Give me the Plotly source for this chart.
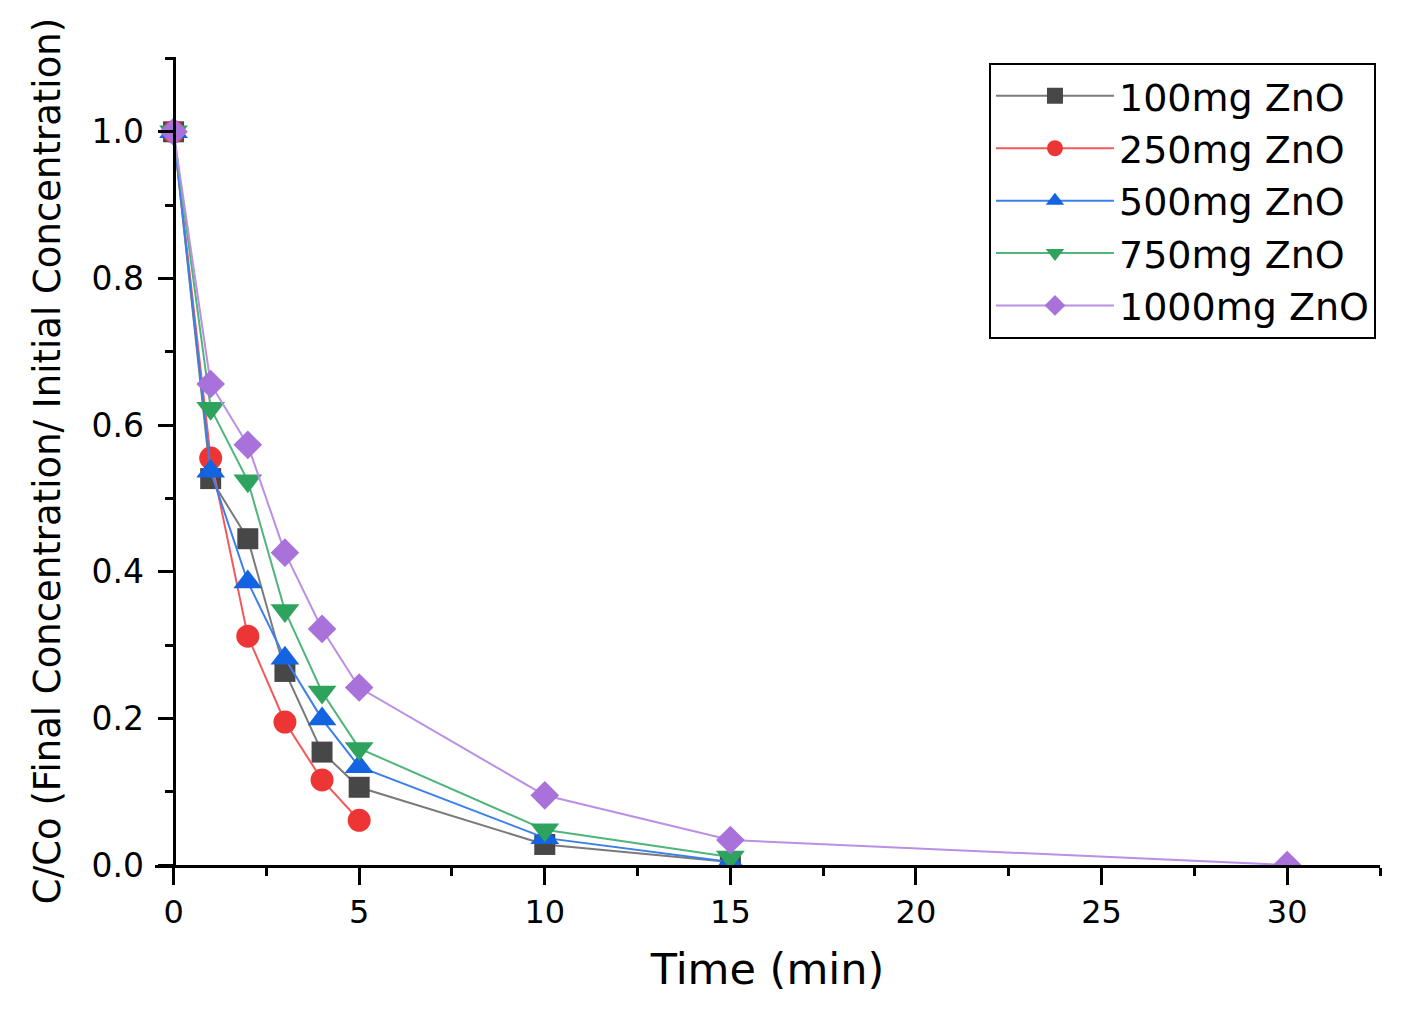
import plotly.graph_objects as go

# ---- data ----
t_100 = [0, 1, 2, 3, 4, 5, 10, 15]
c_100 = [1.0, 0.527, 0.445, 0.264, 0.154, 0.106, 0.028, 0.004]

t_250 = [0, 1, 2, 3, 4, 5]
c_250 = [1.0, 0.555, 0.312, 0.195, 0.116, 0.061]

t_500 = [0, 1, 2, 3, 4, 5, 10, 15]
c_500 = [1.0, 0.537, 0.386, 0.282, 0.199, 0.134, 0.037, 0.004]

t_750 = [0, 1, 2, 3, 4, 5, 10, 15]
c_750 = [1.0, 0.623, 0.524, 0.347, 0.236, 0.159, 0.048, 0.011]

t_1000 = [0, 1, 2, 3, 4, 5, 10, 15, 30]
c_1000 = [1.0, 0.656, 0.573, 0.426, 0.322, 0.242, 0.095, 0.034, 0.0]

names = ["100mg ZnO", "250mg ZnO", "500mg ZnO", "750mg ZnO", "1000mg ZnO"]
xs = [t_100, t_250, t_500, t_750, t_1000]
ys = [c_100, c_250, c_500, c_750, c_1000]
marker_colors = ["#474747", "#ee3535", "#1463e0", "#2ea35e", "#a872da"]
line_colors = ["#7a7a7a", "#f25a5a", "#3b80ea", "#4fb57a", "#bb8fe4"]
symbols = ["square", "circle", "triangle-up", "triangle-down", "diamond"]
sizes = [21, 23, 25, 25, 22]

fig = go.Figure()
for x, y, n, mc, lc, s, sz in zip(xs, ys, names, marker_colors, line_colors, symbols, sizes):
    fig.add_trace(go.Scatter(
        x=x, y=y, name=n, mode="lines+markers",
        line=dict(color=lc, width=2),
        marker=dict(symbol=s, size=sz, color=mc, line=dict(width=0)),
    ))

FONT = "DejaVu Sans, sans-serif"
x_min, x_max = -0.5, 32.5
fig.update_layout(
    width=1396, height=1006,
    margin=dict(l=147, r=24, t=49, b=149),
    paper_bgcolor="white", plot_bgcolor="white",
    font=dict(family=FONT, color="black"),
    showlegend=True,
    legend=dict(
        x=0.9967, y=0.993, xanchor="right", yanchor="top",
        bgcolor="white", bordercolor="black", borderwidth=2,
        font=dict(size=38, color="black", family=FONT),
        tracegroupgap=0, itemsizing="trace", itemwidth=118,
    ),
    xaxis=dict(
        range=[x_min, x_max],
        tickvals=[0, 5, 10, 15, 20, 25, 30],
        showgrid=False, zeroline=False,
        showline=True, linecolor="black", linewidth=3,
        ticks="outside", ticklen=17, tickwidth=3, tickcolor="black",
        tickfont=dict(size=32),
        minor=dict(dtick=2.5, tick0=0, ticks="outside", ticklen=8, tickwidth=3, tickcolor="black"),
        title=dict(text="Time (min)", font=dict(size=43), standoff=24),
    ),
    yaxis=dict(
        range=[0, 1.102],
        anchor="free", position=(0 - x_min) / (x_max - x_min),
        tickvals=[0, 0.2, 0.4, 0.6, 0.8, 1.0],
        tickformat=".1f",
        showgrid=False, zeroline=False,
        showline=True, linecolor="black", linewidth=3,
        ticks="outside", ticklen=15, tickwidth=3, tickcolor="black",
        tickfont=dict(size=33), ticklabelstandoff=7,
        minor=dict(dtick=0.1, tick0=0, ticks="outside", ticklen=8, tickwidth=3, tickcolor="black"),
        title=dict(text="C/Co (Final Concentration/ Initial Concentration)", font=dict(size=37), standoff=18),
    ),
)

fig.write_html("out.html")
